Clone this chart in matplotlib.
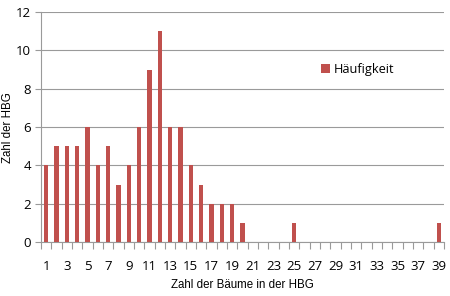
import matplotlib
matplotlib.use("Agg")
import matplotlib.pyplot as plt
import numpy as np

categories = list(range(1, 40))
values = [4, 5, 5, 5, 6, 4, 5, 3, 4, 6, 9, 11, 6, 6, 4, 3, 2, 2, 2, 1,
          0, 0, 0, 0, 1, 0, 0, 0, 0, 0, 0, 0, 0, 0, 0, 0, 0, 0, 1]
series_name = "Häufigkeit"
x_label = "Zahl der Bäume in der HBG"
y_label = "Zahl der HBG"

fig = plt.figure(figsize=(4.5, 2.96), dpi=100)
ax = fig.add_axes([0.091, 0.182, 0.896, 0.777])

ax.bar(categories, values, width=0.42, color="#C0504D", label=series_name, zorder=3)
ax.set_xlim(0.5, 39.5)
ax.set_ylim(0, 12)
ax.set_yticks(range(0, 13, 2))
ax.yaxis.grid(True, color="#9A9A9A", linewidth=0.8, zorder=0)

ax.set_xticks(categories[::2])
ax.set_xticks(np.arange(0.5, 40.0, 1.0), minor=True)
ax.tick_params(axis="x", which="major", length=0, pad=13, labelsize=9.5, labelcolor="#000000")
ax.tick_params(axis="x", which="minor", length=5, color="#9A9A9A", width=0.8)
ax.tick_params(axis="y", length=4, color="#9A9A9A", width=0.8, labelsize=9.5, pad=3)
for lab in ax.get_xticklabels() + ax.get_yticklabels():
    lab.set_family("Open Sans")

for s in ["top", "right"]:
    ax.spines[s].set_visible(False)
for s in ["left", "bottom"]:
    ax.spines[s].set_color("#9A9A9A")
    ax.spines[s].set_linewidth(0.8)

ax.set_xlabel(x_label, family="Liberation Sans", fontsize=8.3)
ax.set_ylabel(y_label, family="Liberation Sans", fontsize=8.3)
ax.xaxis.set_label_coords(0.5, -0.16)
ax.yaxis.set_label_coords(-0.068, 0.5)

leg = ax.legend(loc="upper left", bbox_to_anchor=(0.665, 0.83), frameon=False,
                handlelength=0.7, handleheight=0.7, handletextpad=0.3,
                prop={"family": "Open Sans", "size": 9.2})

fig.savefig("out.png", dpi=100)
